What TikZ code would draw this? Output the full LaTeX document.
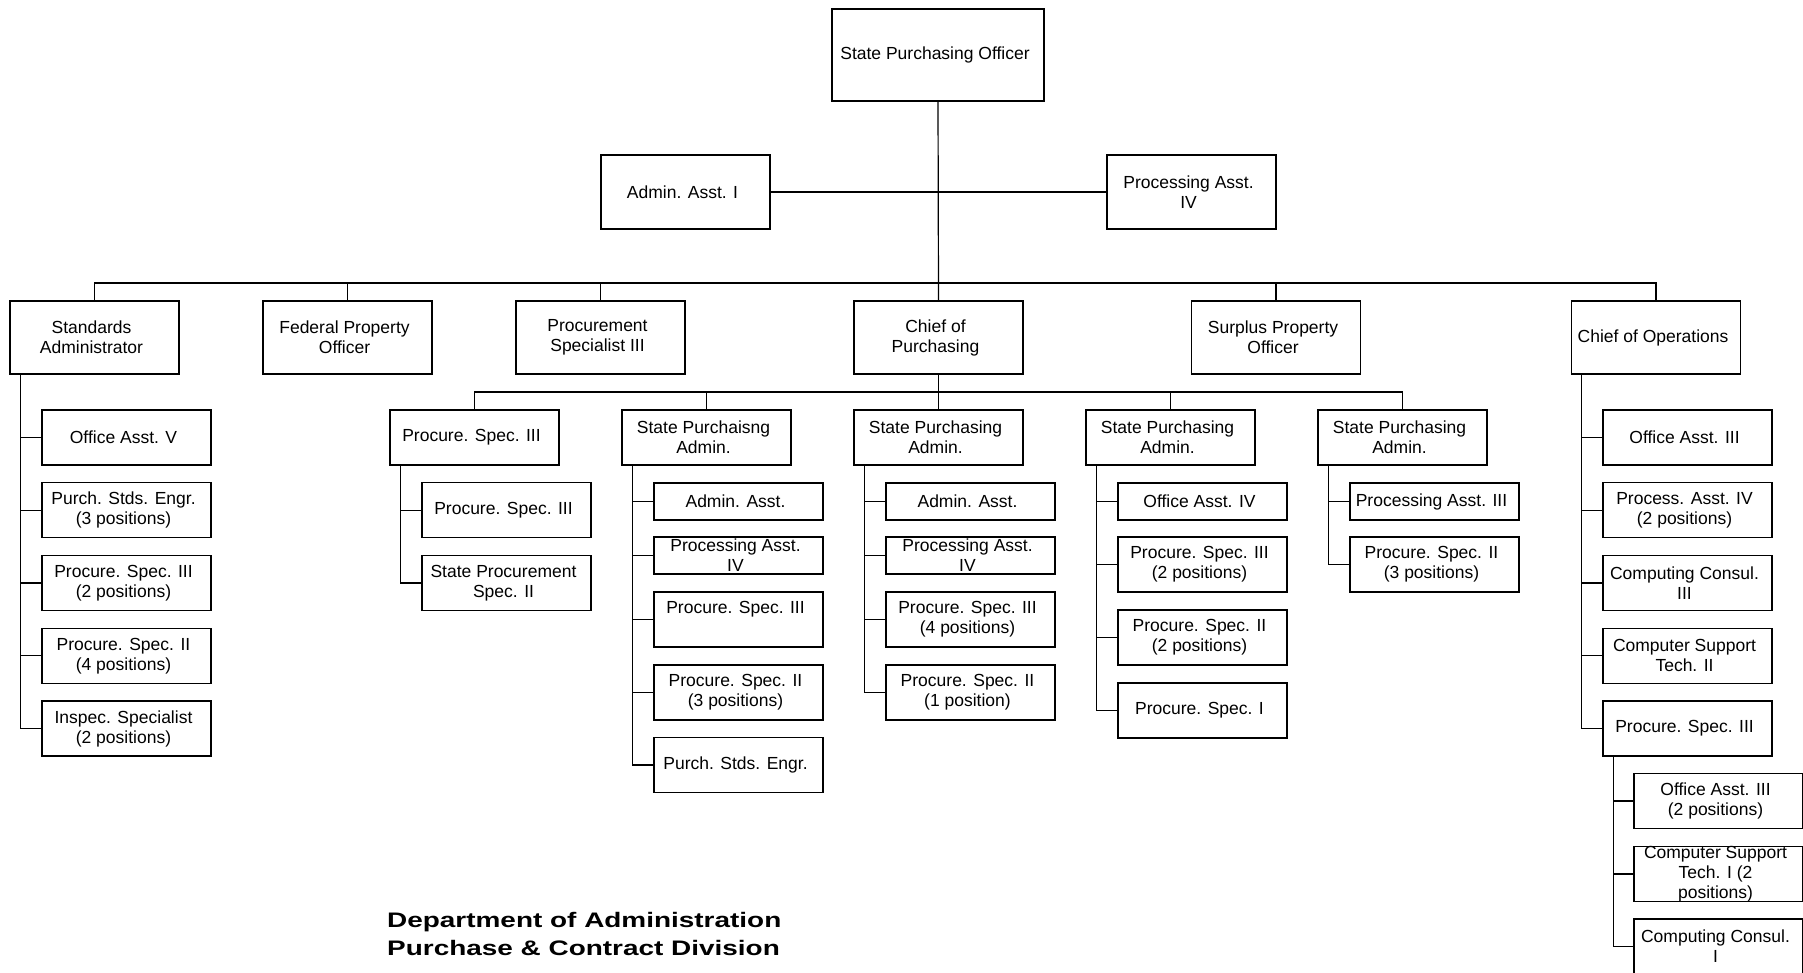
\documentclass[tikz,border=0pt]{standalone}
\usepackage{fontspec}
\setmainfont{Liberation Sans}
\newfontface\titlefont[FakeStretch=1.33]{Liberation Sans Bold}
\tikzset{
  orgbox/.style={draw, line width=1.2pt, inner sep=0pt, outer sep=0pt, minimum width=169pt, minimum height=55pt},
  boxtext/.style={align=center, inner sep=0pt, font=\fontsize{17.5}{20}\selectfont},
  conn/.style={line width=1.2pt},
  titletext/.style={anchor=base west, inner sep=0pt, font=\fontsize{21}{28}\titlefont},
}
\newcommand\OB[5][]{%
  \node[orgbox,#1] (#2) at (#3,#4) {};
  \node[boxtext] at ([xshift=-3pt]#2.center) {#5};}
\begin{document}
\begin{tikzpicture}[x=1pt,y=-1pt]
\fill[white] (0,0) rectangle (1803,973);
\clip (0,0) rectangle (1803,973);
% top
\OB[minimum width=212pt, minimum height=92pt]{spo}{938}{55}{State Purchasing Officer}
\OB[minimum height=74pt]{aa1}{685.5}{192}{Admin. Asst. I}
\OB[minimum height=74pt]{pa4}{1191.5}{192}{Processing Asst.\\IV}
% row 2
\OB[minimum height=73pt]{sa}{94.5}{337.5}{Standards\\Administrator}
\OB[minimum height=73pt]{fpo}{347.5}{337.5}{Federal Property\\Officer}
\OB[minimum height=73pt]{psiii}{600.5}{337.5}{Procurement\\Specialist III}
\OB[minimum height=73pt]{cop}{938.5}{337.5}{Chief of\\Purchasing}
\OB[minimum height=73pt]{spoff}{1276}{337.5}{Surplus Property\\Officer}
\OB[minimum height=73pt]{coo}{1656}{337.5}{Chief of Operations}
% standards admin children
\OB{sa1}{126.5}{437.5}{Office Asst. V}
\OB{sa2}{126.5}{510.25}{Purch. Stds. Engr.\\(3 positions)}
\OB{sa3}{126.5}{583}{Procure. Spec. III\\(2 positions)}
\OB{sa4}{126.5}{655.75}{Procure. Spec. II\\(4 positions)}
\OB{sa5}{126.5}{728.5}{Inspec. Specialist\\(2 positions)}
% row 3
\OB{ra}{474.5}{437.5}{Procure. Spec. III}
\OB{rb}{706.5}{437.5}{State Purchaisng\\Admin.}
\OB{rc}{938.5}{437.5}{State Purchasing\\Admin.}
\OB{rd}{1170.5}{437.5}{State Purchasing\\Admin.}
\OB{re}{1402.5}{437.5}{State Purchasing\\Admin.}
% ra children
\OB{ra1}{506.5}{510.25}{Procure. Spec. III}
\OB{ra2}{506.5}{583}{State Procurement\\Spec. II}
% rb children
\OB[minimum height=37pt]{rb1}{738.5}{501.5}{Admin. Asst.}
\OB[minimum height=37pt]{rb2}{738.5}{555.5}{Processing Asst.\\IV}
\OB{rb3}{738.5}{619.5}{Procure. Spec. III\\\phantom{(}}
\OB{rb4}{738.5}{692.5}{Procure. Spec. II\\(3 positions)}
\OB{rb5}{738.5}{765}{Purch. Stds. Engr.}
% rc children
\OB[minimum height=37pt]{rc1}{970.5}{501.5}{Admin. Asst.}
\OB[minimum height=37pt]{rc2}{970.5}{555.5}{Processing Asst.\\IV}
\OB{rc3}{970.5}{619.5}{Procure. Spec. III\\(4 positions)}
\OB{rc4}{970.5}{692.5}{Procure. Spec. II\\(1 position)}
% rd children
\OB[minimum height=37pt]{rd1}{1202.5}{501.5}{Office Asst. IV}
\OB{rd2}{1202.5}{564.5}{Procure. Spec. III\\(2 positions)}
\OB{rd3}{1202.5}{637.5}{Procure. Spec. II\\(2 positions)}
\OB{rd4}{1202.5}{710.5}{Procure. Spec. I}
% re children
\OB[minimum height=37pt]{re1}{1434.5}{501.5}{Processing Asst. III}
\OB{re2}{1434.5}{564.5}{Procure. Spec. II\\(3 positions)}
% chief of operations children
\OB{co1}{1687.5}{437.5}{Office Asst. III}
\OB{co2}{1687.5}{510.25}{Process. Asst. IV\\(2 positions)}
\OB{co3}{1687.5}{583}{Computing Consul.\\III}
\OB{co4}{1687.5}{655.75}{Computer Support\\Tech. II}
\OB{co5}{1687.5}{728.5}{Procure. Spec. III}
\OB{cs1}{1718.5}{801}{Office Asst. III\\(2 positions)}
\OB{cs2}{1718.5}{874}{Computer Support\\Tech. I (2\\positions)}
\OB{cs3}{1718.5}{946.5}{Computing Consul.\\I}
% connectors
\coordinate (bus) at (938.5,283);
\coordinate (bus2) at (938.5,392);
\draw[conn] (spo.south) -- (cop.north);
\draw[conn] (aa1.east) -- (pa4.west);
\draw[conn] (sa.north) -- (sa.north |- bus) -| (coo.north);
\foreach \n in {fpo,psiii,spoff}
  \draw[conn] (\n.north) -- (\n.north |- bus);
\draw[conn] (ra.north) -- (ra.north |- bus2) -| (re.north);
\draw[conn] (cop.south) -- (rc.north);
\foreach \n in {rb,rd}
  \draw[conn] (\n.north) -- (\n.north |- bus2);
\foreach \c in {sa1,sa2,sa3,sa4,sa5}
  \draw[conn] ([xshift=10.5pt]sa.south west) |- (\c.west);
\foreach \c in {ra1,ra2}
  \draw[conn] ([xshift=10.5pt]ra.south west) |- (\c.west);
\foreach \c in {rb1,rb2,rb3,rb4,rb5}
  \draw[conn] ([xshift=10.5pt]rb.south west) |- (\c.west);
\foreach \c in {rc1,rc2,rc3,rc4}
  \draw[conn] ([xshift=10.5pt]rc.south west) |- (\c.west);
\foreach \c in {rd1,rd2,rd3,rd4}
  \draw[conn] ([xshift=10.5pt]rd.south west) |- (\c.west);
\foreach \c in {re1,re2}
  \draw[conn] ([xshift=10.5pt]re.south west) |- (\c.west);
\foreach \c in {co1,co2,co3,co4,co5}
  \draw[conn] ([xshift=10pt]coo.south west) |- (\c.west);
\foreach \c in {cs1,cs2,cs3}
  \draw[conn] ([xshift=10.5pt]co5.south west) |- (\c.west);
% title
\node[titletext] (t1) at (387,927) {Department of Administration};
\node[titletext] (t2) at (387,955) {Purchase \& Contract Division};
\end{tikzpicture}
\end{document}
